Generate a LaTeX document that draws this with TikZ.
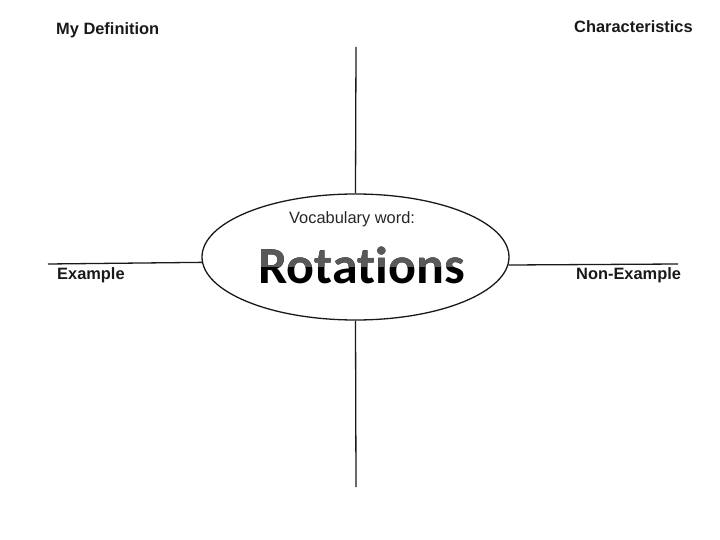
\documentclass[tikz,border=0pt]{standalone}
\usepackage{fontspec}
\setmainfont{Liberation Sans}
\newfontfamily\wordfont[Ligatures={NoCommon,NoRare,NoDiscretionary}]{Carlito}
\usetikzlibrary{shapes.geometric}
\tikzset{
  grid line/.style={line width=1.3pt, black!90},
  label text/.style={anchor=base west, inner sep=0pt, font=\fontsize{16.4}{18}\selectfont\bfseries, text=black!90},
  word text/.style={anchor=base west, inner sep=0pt, font=\fontsize{52}{56}\selectfont\wordfont\bfseries},
}
\begin{document}
\begin{tikzpicture}[x=1pt,y=-1pt]
\useasboundingbox (0,0) rectangle (720,540);
\node[ellipse, draw, line width=1.3pt, black!90, minimum width=307pt, minimum height=126pt, inner sep=0pt] (oval) at (355.5,257) {};
\coordinate (topend) at (356,47);
\coordinate (botend) at (356,487);
\coordinate (leftend) at (48,264);
\coordinate (rightend) at (678,264);
\draw[grid line] (oval.north) -- (topend);
\draw[grid line] (oval.south) -- (botend);
\draw[grid line] (oval.182.6) -- (leftend);
\draw[grid line] (oval.357.4) -- (rightend);
\node[label text] (def) at (56,35) {My Definition};
\node[label text] (char) at (574,33) {Characteristics};
\node[label text] (ex) at (57,279) {Example};
\node[label text] (nonex) at (576,279) {Non-Example};
\node[anchor=base west, inner sep=0pt, font=\fontsize{16.4}{18}\selectfont, text=black!85] (vocab) at (289,223) {Vocabulary word:};
\node[word text, text=black] (word) at (258,283) {Rotations};
\begin{scope}
  \clip (240,240) rectangle (480,266);
  \node[word text, text=black!65] (wordtop) at (258,283) {Rotations};
\end{scope}
\end{tikzpicture}
\end{document}
